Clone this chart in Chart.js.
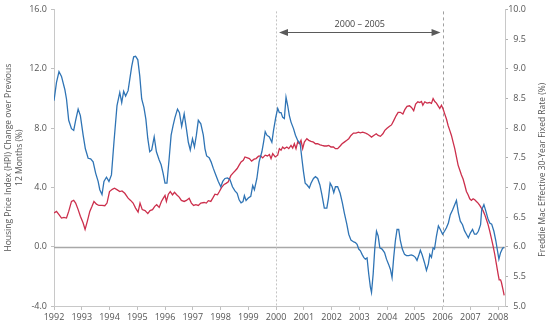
<!DOCTYPE html>
<html>
<head>
<meta charset="utf-8">
<script src="https://cdn.jsdelivr.net/npm/chart.js@4.4.1/dist/chart.umd.min.js"></script>
<style>
  html, body { margin: 0; padding: 0; background: #fff; }
  #wrap { width: 550px; height: 327px; }
</style>
</head>
<body>
<div id="wrap"><canvas id="hpiChart" width="550" height="327"></canvas></div>
<script>
// year ticks along the bottom
const yearTicks = [1992, 1993, 1994, 1995, 1996, 1997, 1998, 1999, 2000, 2001, 2002, 2003, 2004, 2005, 2006, 2007, 2008];
const hpiTicks = [-4, 0, 4, 8, 12, 16];
const rateTicks = [5, 5.5, 6, 6.5, 7, 7.5, 8, 8.5, 9, 9.5, 10];

// HPI change over previous 12 months (%), left axis
const hpiYears = [
  1992.00, 1992.09, 1992.18, 1992.27, 1992.36, 1992.45, 1992.53, 1992.63, 1992.71, 1992.78, 1992.87, 1992.95,
  1993.05, 1993.12, 1993.20, 1993.29, 1993.37, 1993.44, 1993.53, 1993.62, 1993.73, 1993.83, 1993.91,
  1994.00, 1994.10, 1994.18, 1994.28, 1994.37, 1994.45, 1994.55, 1994.67, 1994.76, 1994.85, 1994.94,
  1995.03, 1995.10, 1995.18, 1995.28, 1995.38, 1995.46, 1995.55, 1995.63, 1995.70, 1995.79, 1995.87, 1995.94,
  1996.00, 1996.05, 1996.12, 1996.19, 1996.27, 1996.34, 1996.42, 1996.51, 1996.59, 1996.69, 1996.77, 1996.87, 1996.95,
  1997.03, 1997.11, 1997.20, 1997.29, 1997.41, 1997.49, 1997.56, 1997.65, 1997.72, 1997.80, 1997.89, 1997.96,
  1998.04, 1998.13, 1998.20, 1998.28, 1998.37, 1998.44, 1998.52, 1998.60, 1998.67, 1998.74, 1998.82, 1998.88, 1998.97,
  1999.04, 1999.12, 1999.21, 1999.28, 1999.37, 1999.45, 1999.52, 1999.61, 1999.69, 1999.76, 1999.82, 1999.88, 1999.97,
  2000.06, 2000.12, 2000.18, 2000.24, 2000.30, 2000.39, 2000.46, 2000.54, 2000.60, 2000.66, 2000.72, 2000.78, 2000.84, 2000.90, 2000.96,
  2001.02, 2001.11, 2001.18, 2001.26, 2001.35, 2001.42, 2001.50, 2001.59, 2001.66, 2001.74, 2001.83, 2001.90, 2001.98,
  2002.07, 2002.14, 2002.22, 2002.31, 2002.38, 2002.46, 2002.55, 2002.62, 2002.70, 2002.79, 2002.88, 2002.97,
  2003.04, 2003.12, 2003.20, 2003.28, 2003.37, 2003.44, 2003.52, 2003.61, 2003.68, 2003.76, 2003.85, 2003.92,
  2004.00, 2004.09, 2004.16, 2004.24, 2004.33, 2004.40, 2004.48, 2004.57, 2004.64, 2004.72, 2004.81, 2004.88, 2004.96,
  2005.03, 2005.11, 2005.18, 2005.24, 2005.29, 2005.36, 2005.44, 2005.53, 2005.60, 2005.66, 2005.72, 2005.78, 2005.84, 2005.90, 2005.96,
  2006.02, 2006.08, 2006.14, 2006.20, 2006.26, 2006.32, 2006.38, 2006.44, 2006.50, 2006.56, 2006.62, 2006.68, 2006.74, 2006.80, 2006.86, 2006.92, 2006.98,
  2007.04, 2007.10, 2007.16, 2007.22, 2007.28, 2007.34, 2007.40, 2007.46, 2007.52, 2007.58, 2007.64, 2007.70, 2007.76, 2007.82, 2007.88, 2007.94,
  2008.00, 2008.04, 2008.09, 2008.12, 2008.18, 2008.22
];
const hpiValues = [
  2.27, 2.38, 2.16, 1.93, 1.98, 1.93, 2.38, 3.05, 3.12, 2.94, 2.50, 2.05,
  1.60, 1.16, 1.71, 2.38, 2.72, 3.05, 2.87, 2.78, 2.78, 2.76, 2.94,
  3.72, 3.87, 3.94, 3.83, 3.72, 3.76, 3.60, 3.27, 3.12, 2.94, 2.60,
  2.33, 2.94, 2.50, 2.43, 2.23, 2.43, 2.50, 2.72, 2.83, 2.65, 3.05, 3.27,
  3.45, 3.05, 3.54, 3.72, 3.50, 3.67, 3.50, 3.34, 3.12, 3.05, 3.12, 3.27, 2.94,
  2.78, 2.83, 2.78, 2.94, 2.98, 2.94, 3.10, 3.05, 3.27, 3.54, 3.50, 3.72,
  4.00, 4.20, 4.27, 4.38, 4.79, 4.94, 5.10, 5.27, 5.50, 5.72, 5.83, 6.05, 5.99,
  5.94, 5.77, 5.90, 5.94, 6.10, 6.12, 5.99, 6.17, 6.12, 6.21, 5.94, 6.27, 6.05,
  6.17, 6.61, 6.50, 6.72, 6.61, 6.72, 6.61, 6.83, 6.65, 6.94, 6.61, 7.05, 6.94, 7.17, 6.61,
  7.05, 7.28, 7.17, 7.10, 7.05, 6.94, 6.94, 6.87, 6.83, 6.79, 6.79, 6.83, 6.72,
  6.72, 6.61, 6.61, 6.79, 6.94, 7.05, 7.17, 7.28, 7.50, 7.66, 7.66, 7.72,
  7.68, 7.72, 7.68, 7.61, 7.50, 7.39, 7.50, 7.61, 7.50, 7.44, 7.61, 7.84,
  7.99, 8.12, 8.21, 8.50, 8.84, 9.06, 9.06, 8.94, 9.24, 9.46, 9.50, 9.39, 9.17,
  9.61, 9.77, 9.72, 9.79, 9.54, 9.77, 9.68, 9.72, 9.66, 9.99, 9.79, 9.68, 9.50, 9.32, 9.54,
  9.28, 8.94, 8.61, 8.17, 7.84, 7.50, 7.05, 6.61, 6.05, 5.50, 5.17, 4.83, 4.56, 4.16, 3.72, 3.50, 3.23,
  3.12, 3.23, 3.16, 3.05, 2.94, 2.78, 2.60, 2.43, 2.16, 1.83, 1.49, 1.05, 0.56, 0.05, -0.51, -1.18,
  -1.84, -2.24, -2.24, -2.40, -2.91, -3.29
];

// Freddie Mac effective 30-year fixed rate (%), right axis
const rateYears = [
  1992.00, 1992.09, 1992.18, 1992.27, 1992.39, 1992.45, 1992.53, 1992.63, 1992.71, 1992.78, 1992.87, 1992.95,
  1993.05, 1993.13, 1993.23, 1993.32, 1993.41, 1993.50, 1993.59, 1993.65, 1993.73, 1993.80, 1993.89, 1993.98,
  1994.07, 1994.16, 1994.27, 1994.37, 1994.44, 1994.51, 1994.58, 1994.67, 1994.73, 1994.80, 1994.87, 1994.94,
  1995.02, 1995.09, 1995.16, 1995.24, 1995.31, 1995.38, 1995.45, 1995.52, 1995.61, 1995.69, 1995.79, 1995.86, 1995.93,
  1996.00, 1996.07, 1996.15, 1996.22, 1996.29, 1996.36, 1996.45, 1996.52, 1996.60, 1996.69, 1996.77, 1996.84, 1996.91, 1996.99,
  1997.06, 1997.13, 1997.20, 1997.29, 1997.38, 1997.44, 1997.50, 1997.59, 1997.66, 1997.74, 1997.83, 1997.92,
  1998.01, 1998.08, 1998.16, 1998.25, 1998.34, 1998.43, 1998.52, 1998.60, 1998.67, 1998.74, 1998.81, 1998.86, 1998.92,
  1999.00, 1999.09, 1999.16, 1999.22, 1999.31, 1999.39, 1999.49, 1999.55, 1999.61, 1999.67, 1999.76, 1999.85, 1999.91, 1999.99,
  2000.06, 2000.12, 2000.18, 2000.24, 2000.30, 2000.36, 2000.42, 2000.48, 2000.54, 2000.63, 2000.70, 2000.78, 2000.87, 2000.93, 2000.99,
  2001.05, 2001.12, 2001.20, 2001.26, 2001.35, 2001.42, 2001.50, 2001.58, 2001.65, 2001.74, 2001.83, 2001.89, 2001.95,
  2002.02, 2002.08, 2002.14, 2002.22, 2002.31, 2002.39, 2002.46, 2002.55, 2002.62, 2002.70, 2002.80, 2002.86, 2002.92, 2002.98,
  2003.04, 2003.10, 2003.16, 2003.22, 2003.28, 2003.34, 2003.40, 2003.44, 2003.50, 2003.56, 2003.62, 2003.68, 2003.74, 2003.82, 2003.91, 2003.98,
  2004.05, 2004.12, 2004.18, 2004.24, 2004.30, 2004.36, 2004.42, 2004.48, 2004.55, 2004.63, 2004.70, 2004.78, 2004.87, 2004.94,
  2005.02, 2005.08, 2005.14, 2005.20, 2005.26, 2005.35, 2005.42, 2005.49, 2005.54, 2005.60, 2005.66, 2005.71, 2005.78, 2005.85, 2005.92,
  2006.00, 2006.07, 2006.14, 2006.21, 2006.28, 2006.36, 2006.43, 2006.50, 2006.57, 2006.64, 2006.72, 2006.79, 2006.86, 2006.93,
  2007.00, 2007.08, 2007.15, 2007.22, 2007.29, 2007.37, 2007.41, 2007.49, 2007.56, 2007.63, 2007.70, 2007.77, 2007.85, 2007.92, 2007.98,
  2008.03, 2008.09, 2008.16, 2008.21
];
const rateValues = [
  8.46, 8.77, 8.95, 8.87, 8.65, 8.49, 8.13, 7.99, 7.96, 8.13, 8.32, 8.21,
  7.88, 7.65, 7.49, 7.48, 7.43, 7.24, 7.10, 6.96, 6.88, 7.10, 7.17, 7.10,
  7.21, 7.76, 8.38, 8.60, 8.43, 8.62, 8.54, 8.63, 8.82, 9.04, 9.20, 9.21,
  9.15, 8.88, 8.49, 8.35, 8.15, 7.82, 7.60, 7.63, 7.85, 7.60, 7.46, 7.38, 7.24,
  7.07, 7.07, 7.49, 7.88, 8.04, 8.18, 8.32, 8.26, 8.03, 8.24, 7.99, 7.76, 7.63, 7.82,
  7.68, 7.88, 8.13, 8.07, 7.88, 7.65, 7.53, 7.50, 7.43, 7.32, 7.21, 7.10,
  7.01, 7.10, 7.15, 7.16, 7.13, 7.01, 6.94, 6.90, 6.79, 6.74, 6.76, 6.86, 6.78,
  6.82, 6.85, 7.03, 6.96, 7.15, 7.43, 7.60, 7.76, 7.94, 7.88, 7.85, 7.76, 7.96, 8.18,
  8.33, 8.26, 8.26, 8.18, 8.16, 8.52, 8.38, 8.21, 8.10, 7.99, 7.88, 7.79, 7.74, 7.49, 7.26,
  7.07, 7.04, 6.99, 7.07, 7.15, 7.18, 7.15, 7.04, 6.88, 6.65, 6.65, 6.82, 7.07,
  7.01, 6.91, 7.01, 7.01, 6.90, 6.74, 6.57, 6.38, 6.21, 6.11, 6.08, 6.07, 6.04, 5.96,
  5.93, 5.87, 5.82, 5.79, 5.81, 5.54, 5.32, 5.23, 5.54, 5.98, 6.26, 6.18, 5.98, 5.96, 5.90, 5.79,
  5.71, 5.62, 5.48, 5.82, 6.10, 6.29, 6.29, 6.10, 5.96, 5.87, 5.85, 5.85, 5.86, 5.85,
  5.82, 5.77, 5.85, 5.94, 5.87, 5.73, 5.60, 5.71, 5.87, 5.82, 5.98, 5.96, 6.18, 6.35, 6.29,
  6.21, 6.26, 6.32, 6.40, 6.54, 6.62, 6.70, 6.78, 6.57, 6.43, 6.37, 6.27, 6.21, 6.15,
  6.23, 6.29, 6.21, 6.21, 6.26, 6.37, 6.62, 6.71, 6.60, 6.48, 6.40, 6.38, 6.26, 6.10, 5.93,
  5.79, 5.90, 5.97, 5.99
];

// marked period
const markYears = [2000, 2006];
const spanLabel = '2000 \u2013 2005';
const spanLevel = 14.45;

const hpiTitle = ['Housing Price Index (HPI) Change over Previous', '12 Months (%)'];
const rateTitle = 'Freddie Mac Effective 30-Year Fixed Rate (%)';

const fontFamily = '"Open Sans", "Noto Sans", sans-serif';

const overlay = {
  id: 'overlay',
  beforeDatasetsDraw(chart) {
    const {ctx, chartArea, scales} = chart;
    const xs = scales.x;
    const yl = scales.yHpi;
    ctx.save();

    // zero line
    const y0 = Math.round(yl.getPixelForValue(0)) + 0.5;
    ctx.strokeStyle = '#a8a8a8';
    ctx.lineWidth = 1.5;
    ctx.beginPath();
    ctx.moveTo(chartArea.left, y0);
    ctx.lineTo(chartArea.right, y0);
    ctx.stroke();

    // dashed period lines
    ctx.lineWidth = 1;
    markYears.forEach((yr, i) => {
      const px = Math.round(xs.getPixelForValue(yr)) + 0.5;
      ctx.strokeStyle = i === 0 ? '#c4c4c4' : '#a0a0a0';
      ctx.setLineDash(i === 0 ? [2, 2] : [3, 3]);
      ctx.beginPath();
      ctx.moveTo(px, chartArea.top + 2);
      ctx.lineTo(px, chartArea.bottom);
      ctx.stroke();
    });
    ctx.setLineDash([]);

    // double arrow with label
    const ay = Math.round(yl.getPixelForValue(spanLevel)) + 0.5;
    const ax1 = xs.getPixelForValue(markYears[0]) + 3;
    const ax2 = xs.getPixelForValue(markYears[1]) - 2;
    ctx.strokeStyle = '#5a5a5a';
    ctx.fillStyle = '#5a5a5a';
    ctx.beginPath();
    ctx.moveTo(ax1 + 6, ay);
    ctx.lineTo(ax2 - 6, ay);
    ctx.stroke();
    ctx.beginPath();
    ctx.moveTo(ax1, ay);
    ctx.lineTo(ax1 + 9, ay - 3.5);
    ctx.lineTo(ax1 + 9, ay + 3.5);
    ctx.closePath();
    ctx.fill();
    ctx.beginPath();
    ctx.moveTo(ax2, ay);
    ctx.lineTo(ax2 - 9, ay - 3.5);
    ctx.lineTo(ax2 - 9, ay + 3.5);
    ctx.closePath();
    ctx.fill();

    ctx.fillStyle = '#444';
    ctx.font = '9px ' + fontFamily;
    ctx.textAlign = 'center';
    ctx.textBaseline = 'bottom';
    ctx.fillText(spanLabel, (ax1 + ax2) / 2, ay - 4);
    ctx.restore();
  },
  afterDraw(chart) {
    const {ctx, chartArea} = chart;
    const cy = (chartArea.top + chartArea.bottom) / 2;
    ctx.save();
    ctx.fillStyle = '#555';
    ctx.font = '8.5px ' + fontFamily;
    ctx.textAlign = 'center';
    ctx.textBaseline = 'middle';

    ctx.save();
    ctx.translate(9, cy);
    ctx.rotate(-Math.PI / 2);
    ctx.fillText(hpiTitle[0], 0, 0);
    ctx.fillText(hpiTitle[1], 0, 11);
    ctx.restore();

    ctx.save();
    ctx.translate(543, cy + 12);
    ctx.rotate(-Math.PI / 2);
    ctx.fillText(rateTitle, 0, 0);
    ctx.restore();

    ctx.restore();
  }
};

const toPoints = (xs, ys) => xs.map((x, i) => ({x: x, y: ys[i]}));

const config = {
  type: 'line',
  data: {
    datasets: [
      {
        label: 'Freddie Mac 30-Year Fixed Rate',
        data: toPoints(rateYears, rateValues),
        yAxisID: 'yRate',
        borderColor: '#2f74b5',
        borderWidth: 1.3,
        pointRadius: 0,
        tension: 0
      },
      {
        label: 'HPI change',
        data: toPoints(hpiYears, hpiValues),
        yAxisID: 'yHpi',
        borderColor: '#cc2f4c',
        borderWidth: 1.3,
        pointRadius: 0,
        tension: 0
      }
    ]
  },
  options: {
    responsive: false,
    animation: false,
    devicePixelRatio: 1,
    layout: { padding: { top: 3, left: 0, right: 24, bottom: 0 } },
    plugins: {
      legend: { display: false },
      tooltip: { enabled: false }
    },
    scales: {
      x: {
        type: 'linear',
        min: 1992,
        max: 2008.25,
        afterBuildTicks: scale => { scale.ticks = yearTicks.map(v => ({value: v})); },
        afterFit: scale => { scale.height = 21; },
        grid: { drawOnChartArea: false, tickLength: 4, color: '#c0c0c0' },
        border: { color: '#c8c8c8' },
        ticks: {
          callback: v => String(v),
          font: { family: fontFamily, size: 9 },
          color: '#555',
          padding: 2,
          maxRotation: 0
        }
      },
      yHpi: {
        position: 'left',
        min: -4,
        max: 16,
        afterBuildTicks: scale => { scale.ticks = hpiTicks.map(v => ({value: v})); },
        afterFit: scale => { scale.width = 54; },
        grid: { drawOnChartArea: false, tickLength: 3, color: '#c0c0c0' },
        border: { color: '#c8c8c8' },
        ticks: {
          callback: v => v.toFixed(1),
          font: { family: fontFamily, size: 9 },
          color: '#555',
          padding: 4
        }
      },
      yRate: {
        position: 'right',
        min: 5,
        max: 10,
        afterBuildTicks: scale => { scale.ticks = rateTicks.map(v => ({value: v})); },
        afterFit: scale => { scale.width = 21; },
        grid: { drawOnChartArea: false, tickLength: 3, color: '#b0b0b0' },
        border: { color: '#c8c8c8' },
        ticks: {
          callback: v => v.toFixed(1),
          font: { family: fontFamily, size: 9 },
          color: '#555',
          padding: 1,
          crossAlign: 'far'
        }
      }
    }
  },
  plugins: [overlay]
};

new Chart(document.getElementById('hpiChart'), config);
</script>
</body>
</html>
